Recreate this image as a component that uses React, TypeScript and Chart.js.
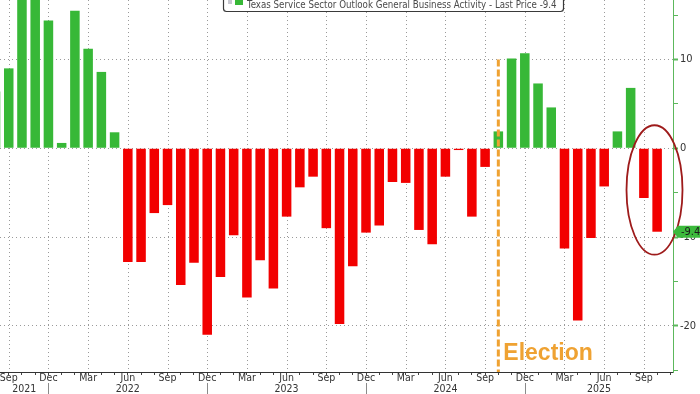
import React, { useEffect, useRef } from 'react';
import { Chart, registerables } from 'chart.js';

Chart.register(...registerables);

const months = [
  'Aug 2021', 'Sep 2021', 'Oct 2021', 'Nov 2021', 'Dec 2021',
  'Jan 2022', 'Feb 2022', 'Mar 2022', 'Apr 2022', 'May 2022', 'Jun 2022',
  'Jul 2022', 'Aug 2022', 'Sep 2022', 'Oct 2022', 'Nov 2022', 'Dec 2022',
  'Jan 2023', 'Feb 2023', 'Mar 2023', 'Apr 2023', 'May 2023', 'Jun 2023',
  'Jul 2023', 'Aug 2023', 'Sep 2023', 'Oct 2023', 'Nov 2023', 'Dec 2023',
  'Jan 2024', 'Feb 2024', 'Mar 2024', 'Apr 2024', 'May 2024', 'Jun 2024',
  'Jul 2024', 'Aug 2024', 'Sep 2024', 'Oct 2024', 'Nov 2024', 'Dec 2024',
  'Jan 2025', 'Feb 2025', 'Mar 2025', 'Apr 2025', 'May 2025', 'Jun 2025',
  'Jul 2025', 'Aug 2025', 'Sep 2025', 'Oct 2025', 'Nov 2025',
];

const activity = [
  6.4, 9.0, 21.0, 22.0, 14.4,
  0.6, 15.5, 11.2, 8.6, 1.8, -12.8,
  -12.8, -7.3, -6.4, -15.4, -12.9, -21.0,
  -14.5, -9.8, -16.8, -12.6, -15.8, -7.7,
  -4.4, -3.2, -9.0, -19.8, -13.3, -9.5,
  -8.7, -3.8, -3.9, -9.2, -10.8, -3.2,
  -0.2, -7.7, -2.1, 1.9, 10.1, 10.7,
  7.3, 4.6, -11.3, -19.4, -10.1, -4.3,
  1.9, 6.8, -5.6, -9.4,
];

const tickMonths = ['Sep', 'Dec', 'Mar', 'Jun'];
const yearLabels = ['2021', '2022', '2023', '2024', '2025'];
const yLabelValues = [10, 0, -10, -20];
const legendText = 'Texas Service Sector Outlook General Business Activity - Last Price -9.4';
const lastPriceText = '-9.4';
const eventLabel = 'Election';
const eventMonth = 'Oct 2024';
const highlightMonths = ['Sep 2025', 'Oct 2025'];

const GREEN = '#37b837';
const RED = '#f20000';
const ORANGE = '#efa232';
const GRID = '#9a9a9a';
const AXIS_GREEN = '#5cb85c';
const NARROW = "'Liberation Sans Narrow', 'DejaVu Sans Condensed', 'Liberation Sans', Arial, sans-serif";

const isQuarterIndex = (i: number) => {
  const m = months[i];
  return !!m && tickMonths.includes(m.split(' ')[0]);
};

const quarterGrid = {
  id: 'quarterGrid',
  beforeDatasetsDraw(chart: any) {
    const { ctx, chartArea, scales } = chart;
    const xs = scales.x;
    ctx.save();
    ctx.strokeStyle = GRID;
    ctx.lineWidth = 1;
    ctx.setLineDash([1, 3]);
    months.forEach((_, i) => {
      if (!isQuarterIndex(i)) return;
      const px = Math.round(xs.getPixelForValue(i)) + 0.5;
      if (px < chartArea.left || px > chartArea.right) return;
      ctx.beginPath();
      ctx.moveTo(px, chartArea.top);
      ctx.lineTo(px, chartArea.bottom);
      ctx.stroke();
    });
    ctx.restore();
  },
};

const annotations = {
  id: 'annotations',
  afterDraw(chart: any) {
    const { ctx, chartArea, scales } = chart;
    const xs = scales.x;
    const ys = scales.y;
    ctx.save();

    // year separators and year labels
    const decIdx: number[] = [];
    months.forEach((m, i) => {
      if (m.startsWith('Dec')) decIdx.push(i);
    });
    const bounds = [chartArea.left, ...decIdx.map((i) => xs.getPixelForValue(i)), chartArea.right];
    ctx.strokeStyle = '#8a8a8a';
    ctx.lineWidth = 1;
    decIdx.forEach((i) => {
      const px = Math.round(xs.getPixelForValue(i)) + 0.5;
      ctx.beginPath();
      ctx.moveTo(px, chartArea.bottom + 11);
      ctx.lineTo(px, chartArea.bottom + 24);
      ctx.stroke();
    });
    ctx.fillStyle = '#333';
    ctx.font = `10.5px ${NARROW}`;
    ctx.textAlign = 'center';
    ctx.textBaseline = 'middle';
    yearLabels.forEach((yl, i) => {
      const cx = (bounds[i] + bounds[i + 1]) / 2;
      ctx.fillText(yl, cx, chartArea.bottom + 17.5);
    });

    // election dashed line
    const ex = xs.getPixelForValue(months.indexOf(eventMonth));
    ctx.strokeStyle = ORANGE;
    ctx.lineWidth = 3;
    ctx.setLineDash([7, 3]);
    ctx.beginPath();
    ctx.moveTo(ex, ys.getPixelForValue(10));
    ctx.lineTo(ex, chartArea.bottom);
    ctx.stroke();
    ctx.setLineDash([]);

    ctx.fillStyle = ORANGE;
    ctx.font = "bold 23px 'Liberation Sans', Arial, sans-serif";
    ctx.textAlign = 'left';
    ctx.textBaseline = 'alphabetic';
    ctx.fillText(eventLabel, ex + 5, ys.getPixelForValue(-23.8));

    // highlight ellipse
    const i1 = months.indexOf(highlightMonths[0]);
    const i2 = months.indexOf(highlightMonths[1]);
    const cx = (xs.getPixelForValue(i1) + xs.getPixelForValue(i2)) / 2 + 4;
    const vmin = Math.min(0, activity[i1], activity[i2]);
    const ytop = ys.getPixelForValue(0);
    const ybot = ys.getPixelForValue(vmin);
    const cy = (ytop + ybot) / 2;
    ctx.strokeStyle = '#9e1b1b';
    ctx.lineWidth = 1.8;
    ctx.beginPath();
    ctx.ellipse(cx, cy, 28, (ybot - ytop) / 2 + 23, 0, 0, Math.PI * 2);
    ctx.stroke();

    // last price badge
    const last = activity[activity.length - 1];
    const by = ys.getPixelForValue(last);
    const bx = chartArea.right;
    ctx.fillStyle = '#3cba3c';
    ctx.beginPath();
    ctx.moveTo(bx, by);
    ctx.lineTo(bx + 5, by - 6);
    ctx.lineTo(chart.width, by - 6);
    ctx.lineTo(chart.width, by + 6);
    ctx.lineTo(bx + 5, by + 6);
    ctx.closePath();
    ctx.fill();
    ctx.fillStyle = '#1a1a1a';
    ctx.font = `11px ${NARROW}`;
    ctx.textAlign = 'left';
    ctx.textBaseline = 'middle';
    ctx.fillText(lastPriceText, bx + 8, by + 0.5);

    // legend box (partly above top edge)
    const lx = 223.5;
    const lr = 563.5;
    const lb = 11.5;
    ctx.fillStyle = '#ffffff';
    ctx.strokeStyle = '#3a3a3a';
    ctx.lineWidth = 1.2;
    ctx.beginPath();
    (ctx as any).roundRect(lx, -12, lr - lx, lb + 12, 3);
    ctx.fill();
    ctx.stroke();
    ctx.fillStyle = '#c8c8d0';
    ctx.fillRect(228, -1, 4, 5);
    ctx.fillStyle = GREEN;
    ctx.fillRect(235, -3, 8, 8);
    ctx.font = `10px ${NARROW}`;
    const w10 = ctx.measureText(legendText).width;
    const fs = (10 * 310) / w10;
    ctx.font = `${fs}px ${NARROW}`;
    ctx.fillStyle = '#4a4a4a';
    ctx.textBaseline = 'alphabetic';
    ctx.textAlign = 'left';
    ctx.fillText(legendText, 247, 7.5);

    ctx.restore();
  },
};

export default function App() {
  const ref = useRef<HTMLCanvasElement | null>(null);

  useEffect(() => {
    document.body.style.margin = '0';
    const canvas = ref.current;
    if (!canvas) return;
    const data = activity.map((v, i) => ({ x: i, y: v }));
    const chart = new Chart(canvas, {
      type: 'bar',
      data: {
        datasets: [
          {
            data: data as any,
            backgroundColor: activity.map((v) => (v >= 0 ? GREEN : RED)),
            borderWidth: 0,
            barPercentage: 0.72,
            categoryPercentage: 1,
            clip: 0 as any,
          },
        ],
      },
      plugins: [quarterGrid, annotations],
      options: {
        responsive: false,
        maintainAspectRatio: false,
        animation: false,
        devicePixelRatio: 1,
        layout: { padding: 0 },
        plugins: {
          legend: { display: false },
          tooltip: { enabled: false },
        },
        scales: {
          x: {
            type: 'linear',
            position: 'bottom',
            min: 0.34,
            max: 51.2,
            offset: false,
            grid: {
              offset: false,
              drawOnChartArea: false,
              color: 'rgba(0,0,0,0)',
              tickColor: '#444',
              tickLength: 3,
              lineWidth: 1,
            },
            border: { display: true, color: '#333', width: 1 },
            ticks: {
              stepSize: 1,
              autoSkip: false,
              maxRotation: 0,
              minRotation: 0,
              includeBounds: false,
              maxTicksLimit: 200,
              padding: -3,
              color: '#333',
              font: { family: NARROW, size: 10.5 },
              callback: (v: any) => (isQuarterIndex(v) ? months[v].split(' ')[0] : ''),
            },
            afterFit: (s: any) => {
              s.height = 22;
              s.paddingLeft = 0;
              s.paddingRight = 0;
            },
          },
          y: {
            type: 'linear',
            position: 'right',
            min: -25.2,
            max: 16.7,
            grid: {
              color: (c: any) => (c.tick && c.tick.value % 10 === 0 ? GRID : 'rgba(0,0,0,0)'),
              tickColor: AXIS_GREEN,
              tickLength: 5,
              tickWidth: (c: any) => (c.tick && c.tick.value % 10 === 0 ? 2 : 1),
              lineWidth: 1,
            },
            border: { display: true, color: AXIS_GREEN, width: 1, dash: [1, 3] },
            ticks: {
              stepSize: 5,
              includeBounds: false,
              padding: 2,
              color: '#333',
              font: { family: NARROW, size: 11 },
              callback: (v: any) => (yLabelValues.includes(v) ? String(v) : ''),
            },
            afterFit: (s: any) => {
              s.width = 27;
              s.paddingTop = 0;
              s.paddingBottom = 0;
            },
          },
        },
      } as any,
    });
    return () => chart.destroy();
  }, []);

  return (
    <div style={{ width: 700, height: 394, overflow: 'hidden', background: '#fff' }}>
      <canvas ref={ref} width={700} height={394} style={{ display: 'block' }} />
    </div>
  );
}
